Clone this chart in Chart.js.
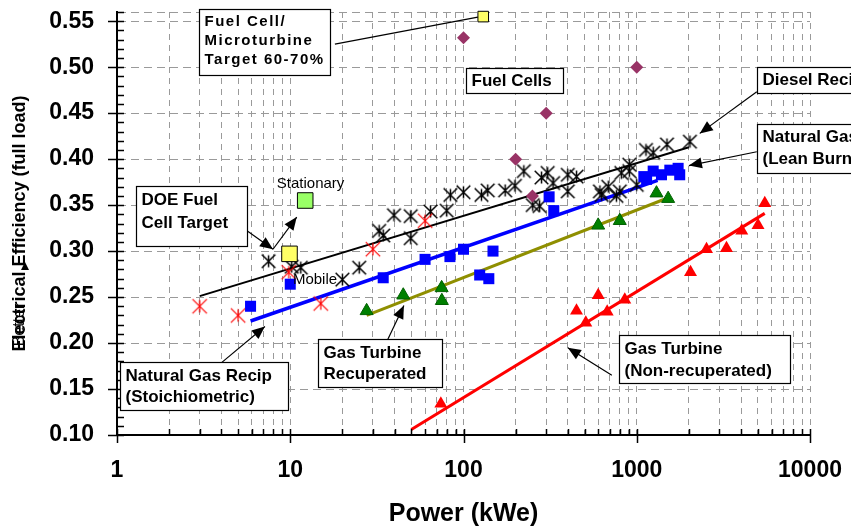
<!DOCTYPE html>
<html>
<head>
<meta charset="utf-8">
<script src="https://cdn.jsdelivr.net/npm/chart.js@4.4.0/dist/chart.umd.min.js"></script>
<style>
  html, body { margin: 0; padding: 0; background: #fff; }
  #wrap { width: 851px; height: 531px; position: relative; }
</style>
</head>
<body>
<div id="wrap"><canvas id="chart"></canvas></div>
<script>
// ---- data (kWe, efficiency) ----
const dieselX = [7.5, 10.2, 11.5, 20, 25, 32.6, 34.4, 39.7, 49.6, 49.6, 64.5, 80, 84, 100, 127, 138, 174, 198, 223, 251, 275, 282, 306, 329, 400, 449, 400, 613, 627, 685, 763, 798, 815, 906, 906, 1000, 1130, 1245, 1494, 2027];
const dieselY = [0.289, 0.283, 0.282, 0.269, 0.282, 0.322, 0.317, 0.339, 0.338, 0.314, 0.343, 0.344, 0.361, 0.364, 0.361, 0.366, 0.366, 0.371, 0.387, 0.350, 0.349, 0.380, 0.385, 0.374, 0.383, 0.381, 0.365, 0.365, 0.361, 0.370, 0.360, 0.365, 0.385, 0.394, 0.387, 0.372, 0.410, 0.407, 0.416, 0.419];

const stoichX = [3, 5, 9.8, 15, 30, 60];
const stoichY = [0.240, 0.230, 0.277, 0.243, 0.302, 0.333];

const leanBurnX = [5.9, 10, 34.4, 60, 83.5, 100, 124, 140, 148, 312, 332, 1099, 1140, 1244, 1389, 1552, 1733, 1770];
const leanBurnY = [0.240, 0.264, 0.271, 0.291, 0.294, 0.302, 0.274, 0.270, 0.300, 0.359, 0.344, 0.381, 0.378, 0.387, 0.383, 0.388, 0.390, 0.383];

const recupX = [27.6, 44.9, 74.8, 75, 599, 798, 1300, 1518];
const recupY = [0.235, 0.252, 0.260, 0.246, 0.328, 0.333, 0.363, 0.357];

const simpleX = [74, 449, 508, 599, 675, 853, 2043, 2528, 3296, 4038, 5012, 5484];
const simpleY = [0.134, 0.235, 0.222, 0.252, 0.234, 0.247, 0.277, 0.302, 0.303, 0.322, 0.328, 0.352];

const fuelCellX = [100, 200, 250, 300, 1000];
const fuelCellY = [0.532, 0.400, 0.360, 0.450, 0.500];

const doeMobile = [{ x: 9.9, y: 0.297 }];
const doeStationary = [{ x: 12.2, y: 0.355 }];
const fcMicroTarget = [{ x: 130, y: 0.555 }];

// trend lines
const dieselFitX = [3, 2000];
const dieselFitY = [0.251, 0.413];
const leanFitX = [5.9, 1320];
const leanFitY = [0.224, 0.377];
const recupFitX = [27.6, 1520];
const recupFitY = [0.230, 0.358];
const simpleFitX = [50, 5480];
const simpleFitY = [0.106, 0.341];

// ticks
const xMajor = [1, 10, 100, 1000, 10000];
const xTickValues = [];
for (let d = 1; d < 10000; d *= 10) for (let m = 1; m < 10; m++) xTickValues.push(m * d);
xTickValues.push(10000);
const yTickValues = [];
for (let i = 10; i <= 56; i++) yTickValues.push(i / 100);

// ---- notes, anchored at data coordinates ----
const boxes = [
  { x: 2.97, y: 0.563, w: 131, h: 66, lines: ['Fuel Cell/', 'Microturbine', 'Target 60-70%'], size: 15, spacing: 1.5, gap: 19, ty: 12 },
  { x: 103.3, y: 0.4993, w: 97, h: 25, lines: ['Fuel Cells'], size: 17, gap: 0, ty: 12.5 },
  { x: 4933, y: 0.500, w: 130, h: 26, lines: ['Diesel Recip'], size: 17, gap: 0, ty: 13 },
  { x: 4933, y: 0.4387, w: 175, h: 49, lines: ['Natural Gas Recip', '(Lean Burn)'], size: 17, gap: 22, ty: 13 },
  { x: 1.287, y: 0.3705, w: 111, h: 60, lines: ['DOE Fuel', 'Cell Target'], size: 17, gap: 23, ty: 14 },
  { x: 1.04, y: 0.179, w: 168, h: 48, lines: ['Natural Gas Recip', '(Stoichiometric)'], size: 17, gap: 21.5, ty: 13.5 },
  { x: 14.4, y: 0.204, w: 124, h: 48, lines: ['Gas Turbine', 'Recuperated'], size: 17, gap: 21.5, ty: 13.5 },
  { x: 788, y: 0.209, w: 171, h: 48, lines: ['Gas Turbine', '(Non-recuperated)'], size: 17, gap: 22, ty: 13.5 }
];
const arrows = [
  { from: [18.1, 0.525], to: [121, 0.5545], head: false },
  { from: [4930, 0.4733], to: [2310, 0.428], head: true },
  { from: [4930, 0.408], to: [2000, 0.393], head: true },
  { from: [5.55, 0.323], to: [7.95, 0.302], head: true },
  { from: [7.95, 0.302], to: [10.9, 0.337], head: true },
  { from: [4.03, 0.179], to: [7.14, 0.218], head: true },
  { from: [36.6, 0.204], to: [45.3, 0.2407], head: true },
  { from: [718, 0.165], to: [400, 0.195], head: true }
];
const plainLabels = [
  { x: 13.1, y: 0.373, text: 'Stationary' },
  { x: 13.9, y: 0.269, text: 'Mobile' }
];

const FONT = '"Liberation Sans", Arial, sans-serif';

function pts(xs, ys) {
  return xs.map((x, i) => ({ x: x, y: ys[i] }));
}

// X with a vertical stroke, like the spreadsheet asterisk marker
function asterisk(color, r, lw) {
  const s = Math.ceil(2 * r + lw + 2);
  const cv = document.createElement('canvas');
  cv.width = s; cv.height = s;
  const g = cv.getContext('2d');
  const c = s / 2;
  const d = r * 0.8;
  g.strokeStyle = color;
  g.lineWidth = lw;
  g.beginPath();
  g.moveTo(c - d, c - d); g.lineTo(c + d, c + d);
  g.moveTo(c + d, c - d); g.lineTo(c - d, c + d);
  g.moveTo(c, c - r * 0.7); g.lineTo(c, c + r * 0.7);
  g.stroke();
  return cv;
}
const blackStar = asterisk('#000', 8.5, 1.5);
const redStar = asterisk('#ff0000', 9, 1.2);

function lineSet(xs, ys, color, width) {
  return { data: pts(xs, ys), showLine: true, pointRadius: 0, borderColor: color, borderWidth: width, fill: false };
}

const datasets = [
  { data: fcMicroTarget, pointStyle: 'rect', pointRadius: 7.5, backgroundColor: '#ffff66', borderColor: '#000', borderWidth: 1, clip: false },
  { data: doeStationary, pointStyle: 'rect', pointRadius: 11, backgroundColor: '#99ff66', borderColor: '#000', borderWidth: 1 },
  { data: doeMobile, pointStyle: 'rect', pointRadius: 11, backgroundColor: '#ffff66', borderColor: '#000', borderWidth: 1 },
  { data: pts(fuelCellX, fuelCellY), pointStyle: 'rectRot', pointRadius: 6.5, backgroundColor: '#993366', borderColor: '#993366', borderWidth: 0 },
  { data: pts(leanBurnX, leanBurnY), pointStyle: 'rect', pointRadius: 7.8, backgroundColor: '#0000ff', borderColor: '#0000ff', borderWidth: 0 },
  { data: pts(recupX, recupY), pointStyle: 'triangle', pointRadius: 7.5, backgroundColor: '#008000', borderColor: '#006000', borderWidth: 1 },
  { data: pts(simpleX, simpleY), pointStyle: 'triangle', pointRadius: 7.5, backgroundColor: '#ff0000', borderColor: '#ff0000', borderWidth: 0 },
  { data: pts(stoichX, stoichY), pointStyle: redStar, pointRadius: 8 },
  { data: pts(dieselX, dieselY), pointStyle: blackStar, pointRadius: 8 },
  lineSet(dieselFitX, dieselFitY, '#000', 2),
  lineSet(leanFitX, leanFitY, '#0000ff', 3.5),
  lineSet(recupFitX, recupFitY, '#8f8f00', 3),
  lineSet(simpleFitX, simpleFitY, '#ff0000', 3)
];

function isMajorY(v) {
  return Math.abs(v * 20 - Math.round(v * 20)) < 1e-6;
}

function drawArrow(ctx, x1, y1, x2, y2, head) {
  ctx.beginPath();
  ctx.moveTo(x1, y1);
  ctx.lineTo(x2, y2);
  ctx.stroke();
  if (!head) return;
  const a = Math.atan2(y2 - y1, x2 - x1);
  const len = 13, hw = 5.5;
  ctx.beginPath();
  ctx.moveTo(x2, y2);
  ctx.lineTo(x2 - len * Math.cos(a) + hw * Math.sin(a), y2 - len * Math.sin(a) - hw * Math.cos(a));
  ctx.lineTo(x2 - len * Math.cos(a) - hw * Math.sin(a), y2 - len * Math.sin(a) + hw * Math.cos(a));
  ctx.closePath();
  ctx.fill();
}

const overlay = {
  id: 'overlay',
  afterDraw(chart) {
    const { ctx, chartArea: a } = chart;
    const sx = chart.scales.x, sy = chart.scales.y;
    ctx.save();

    // axis tick marks
    ctx.strokeStyle = '#000';
    ctx.lineWidth = 1.5;
    ctx.beginPath();
    yTickValues.forEach(v => {
      const p = Math.round(sy.getPixelForValue(v)) + 0.5;
      ctx.moveTo(isMajorY(v) ? a.left - 9 : a.left, p);
      ctx.lineTo(a.left + 7, p);
    });
    xTickValues.forEach(v => {
      const p = Math.round(sx.getPixelForValue(v)) + 0.5;
      ctx.moveTo(p, xMajor.includes(v) ? a.bottom + 8 : a.bottom);
      ctx.lineTo(p, a.bottom - 6);
    });
    ctx.stroke();

    // arrows
    ctx.strokeStyle = '#000';
    ctx.fillStyle = '#000';
    ctx.lineWidth = 1.2;
    arrows.forEach(r => {
      drawArrow(ctx,
        sx.getPixelForValue(r.from[0]), sy.getPixelForValue(r.from[1]),
        sx.getPixelForValue(r.to[0]), sy.getPixelForValue(r.to[1]), r.head);
    });

    // boxed notes
    boxes.forEach(b => {
      const left = Math.round(sx.getPixelForValue(b.x)) + 0.5;
      const top = Math.round(sy.getPixelForValue(b.y)) + 0.5;
      ctx.fillStyle = '#fff';
      ctx.fillRect(left, top, b.w, b.h);
      ctx.strokeStyle = '#000';
      ctx.lineWidth = 1.2;
      ctx.strokeRect(left, top, b.w, b.h);
      ctx.fillStyle = '#000';
      ctx.font = 'bold ' + b.size + 'px ' + FONT;
      ctx.letterSpacing = (b.spacing || 0) + 'px';
      ctx.textAlign = 'left';
      ctx.textBaseline = 'middle';
      b.lines.forEach((t, i) => ctx.fillText(t, left + 5, top + b.ty + i * b.gap));
      ctx.letterSpacing = '0px';
    });

    // plain labels
    ctx.font = '15px ' + FONT;
    ctx.textAlign = 'center';
    ctx.textBaseline = 'middle';
    ctx.fillStyle = '#000';
    plainLabels.forEach(l => ctx.fillText(l.text, sx.getPixelForValue(l.x), sy.getPixelForValue(l.y)));

    // "Better" overprinted on the y title
    ctx.save();
    ctx.translate(20, 325);
    ctx.rotate(-Math.PI / 2);
    ctx.font = '16px ' + FONT;
    ctx.fillText('Better', 0, 0);
    ctx.restore();
    ctx.beginPath();
    ctx.moveTo(25, 262);
    ctx.lineTo(21, 270);
    ctx.lineTo(29, 270);
    ctx.closePath();
    ctx.fill();

    ctx.restore();
  }
};

new Chart(document.getElementById('chart'), {
  type: 'scatter',
  data: { datasets: datasets },
  options: {
    responsive: true,
    maintainAspectRatio: false,
    animation: false,
    layout: { padding: { top: 9, right: 41, left: 0, bottom: 0 } },
    plugins: { legend: { display: false }, tooltip: { enabled: false } },
    scales: {
      x: {
        type: 'logarithmic',
        min: 1,
        max: 10000,
        afterBuildTicks: s => { s.ticks = xTickValues.map(v => ({ value: v })); },
        afterFit: s => { s.height = 96; s.paddingLeft = 0; s.paddingRight = 0; },
        ticks: {
          autoSkip: false,
          maxRotation: 0,
          padding: 22,
          color: '#000',
          font: { family: FONT, size: 23, weight: 'bold' },
          callback: v => xMajor.includes(v) ? String(v) : ''
        },
        grid: { color: '#9a9a9a', lineWidth: 1, drawTicks: false },
        border: { color: '#000', width: 2, dash: [6, 5] },
        title: { display: true, text: 'Power (kWe)', color: '#000', font: { family: FONT, size: 25, weight: 'bold' }, padding: { top: 0, bottom: 2 } }
      },
      y: {
        min: 0.1,
        max: 0.56,
        afterBuildTicks: s => { s.ticks = yTickValues.map(v => ({ value: v })); },
        afterFit: s => { s.width = 117; s.paddingTop = 0; s.paddingBottom = 0; },
        ticks: {
          autoSkip: false,
          padding: 23,
          color: '#000',
          font: { family: FONT, size: 23, weight: 'bold' },
          callback: v => (isMajorY(v) && v < 0.555) ? v.toFixed(2) : ''
        },
        grid: {
          color: c => (isMajorY(c.tick.value) || c.tick.value > 0.555) ? '#9a9a9a' : 'rgba(0,0,0,0)',
          lineWidth: 1,
          drawTicks: false
        },
        border: { color: '#000', width: 2, dash: [8, 5] },
        title: { display: true, text: 'Electrical Efficiency (full load)', color: '#000', font: { family: FONT, size: 18, weight: 'bold' }, padding: { top: 9, bottom: 0 } }
      }
    }
  },
  plugins: [overlay]
});
</script>
</body>
</html>
